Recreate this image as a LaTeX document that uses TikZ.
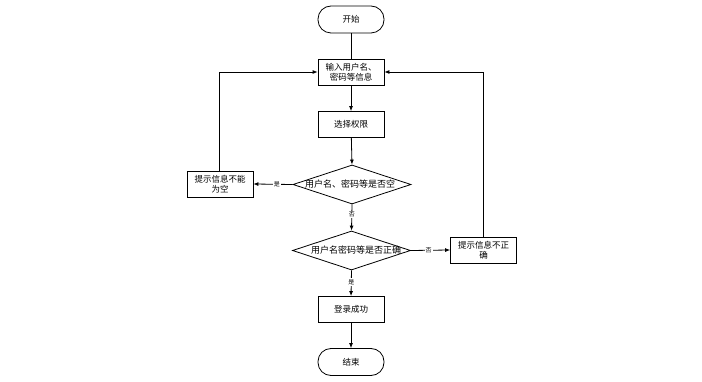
\documentclass[tikz,border=0pt]{standalone}
\usepackage{fontspec}
\newfontfamily\cjk{Noto Sans CJK SC}
\usetikzlibrary{arrows.meta,shapes.geometric}
\begin{document}
\begin{tikzpicture}[x=1pt,y=-1pt,
  every node/.style={font=\cjk\fontsize{8.5}{10}\selectfont},
  term/.style={draw,rounded corners=13pt,minimum width=66pt,minimum height=27pt,inner sep=0pt,line width=0.8pt},
  procbox/.style={draw,minimum width=66pt,minimum height=26pt,inner sep=1pt,align=center,line width=0.8pt},
  decision/.style={draw,diamond,minimum width=118pt,minimum height=39pt,inner sep=0pt,line width=0.8pt},
  dtext/.style={font=\cjk\fontsize{9}{10}\selectfont,inner sep=0pt},
  conn/.style={line width=0.8pt,-{Latex[length=5pt,width=4pt]}},
  plainline/.style={line width=0.8pt},
  lbl/.style={fill=white,inner sep=1pt,font=\cjk\fontsize{6}{6}\selectfont}]
\useasboundingbox (0,0) rectangle (702,382);
\node[term] (start) at (351,19.5) {开始};
\node[procbox] (input) at (351,72) {输入用户名、\\密码等信息};
\node[procbox] (role) at (351,124.5) {选择权限};
\node[decision] (d1) at (352,184.5) {};
\node[dtext] at (350,184) {用户名、密码等是否空};
\node[procbox] (empty) at (220,184) {提示信息不能\\为空};
\node[decision] (d2) at (351.5,250.5) {};
\node[dtext] at (356,250) {用户名密码等是否正确};
\node[procbox] (wrong) at (483.5,250) {提示信息不正\\确};
\node[procbox] (ok) at (351,309.5) {登录成功};
\node[term] (end) at (351,362) {结束};
\coordinate (lc) at (219,72);
\coordinate (rc) at (483,72);
\draw[plainline] (start) -- (input);
\draw[conn] (input) -- (role);
\draw[conn] (role) -- (d1.north);
\draw[conn] (d1.west) -- node[lbl,pos=0.4] {是} (empty.east);
\draw[conn] (empty.north -| lc) -- (lc) -- (input.west);
\draw[conn] (d1.south) -- node[lbl,pos=0.4] {否} (d2.north);
\draw[conn] (d2.east) -- node[lbl,pos=0.45] {否} (wrong.west);
\draw[conn] (wrong.north -| rc) -- (rc) -- (input.east);
\draw[conn] (d2.south) -- node[lbl,pos=0.45] {是} (ok.north);
\draw[conn] (ok) -- (end);
\end{tikzpicture}
\end{document}
